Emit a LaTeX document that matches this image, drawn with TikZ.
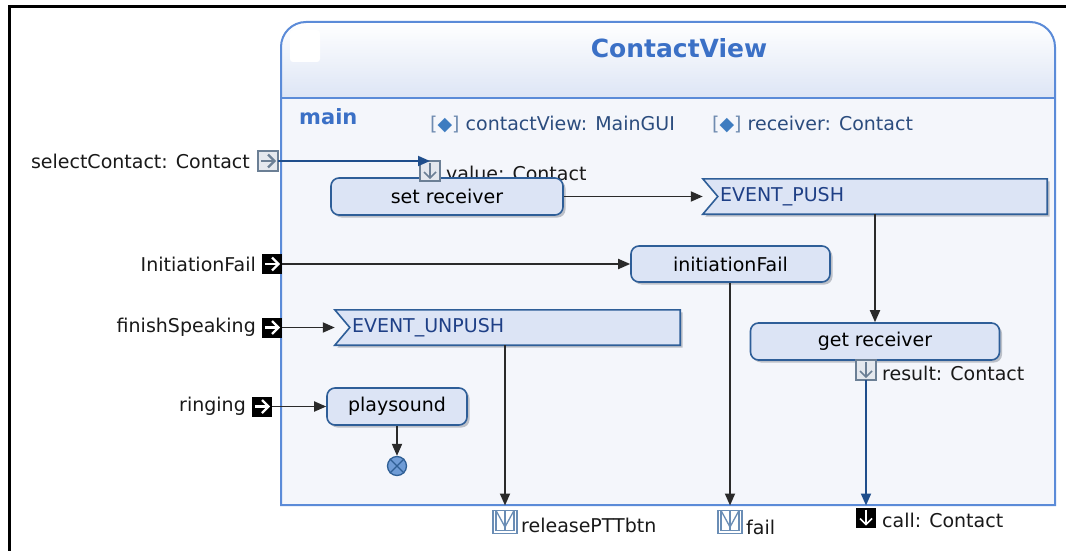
\documentclass[tikz,border=0pt]{standalone}
\usepackage{fontspec}
\setmainfont{DejaVu Sans}
\usetikzlibrary{arrows.meta,calc}
\definecolor{cborder}{HTML}{5B8BD8}
\definecolor{bodyc}{HTML}{F4F6FB}
\definecolor{headc}{HTML}{DDE5F5}
\definecolor{boxfill}{HTML}{DCE4F5}
\definecolor{boxdraw}{HTML}{2E5E98}
\definecolor{titlec}{HTML}{3B70C6}
\definecolor{attrc}{HTML}{2B4C7E}
\definecolor{bracketc}{HTML}{6F8BB0}
\definecolor{diamc}{HTML}{3E7CC0}
\definecolor{evtc}{HTML}{1E3F86}
\definecolor{linec}{HTML}{2A2A2A}
\definecolor{bluel}{HTML}{1F4E8C}
\definecolor{pinc}{HTML}{6B7F95}
\definecolor{pinfill}{HTML}{E4E8EE}
\definecolor{outpinc}{HTML}{6A8DB5}
\definecolor{shadowc}{HTML}{BCC0C8}
\definecolor{endc}{HTML}{2F5F95}
\definecolor{endfill}{HTML}{6F9CD6}
\newcommand\pinarrowright[2]{%
  \draw[#2, line width=2.2pt] ($(#1.center)+(-7,0)$) -- ($(#1.center)+(6,0)$);
  \draw[#2, line width=2.2pt] ($(#1.center)+(0,-6.5)$) -- ($(#1.center)+(6.5,0)$) -- ($(#1.center)+(0,6.5)$);}
\newcommand\pinarrowdown[2]{%
  \draw[#2, line width=1.6pt] ($(#1.center)+(0,-8)$) -- ($(#1.center)+(0,7)$);
  \draw[#2, line width=1.6pt] ($(#1.center)+(-6,1)$) -- ($(#1.center)+(0,7)$) -- ($(#1.center)+(6,1)$);}
\newcommand\pinouticon[1]{%
  \draw[outpinc, line width=1.3pt] ($(#1.north west)+(3,0)$) -- ($(#1.south west)+(3,-3)$) -- ($(#1.south east)+(-3,-3)$) -- ($(#1.north east)+(-3,0)$);
  \draw[outpinc, line width=1.3pt] ($(#1.north west)+(3,0)$) -- ($(#1.center)+(0,5)$) -- ($(#1.north east)+(-3,0)$);
  \draw[outpinc, line width=1.3pt] (#1.north) -- ($(#1.south)+(0,-3)$);}
\begin{document}
\begin{tikzpicture}[x=1pt,y=-1pt, font=\fontsize{19}{22}\selectfont,
  shd/.style={preaction={fill=shadowc, transform canvas={xshift=2.5pt,yshift=-2.5pt}}},
  act/.style={shd, draw=boxdraw, line width=1.6pt, fill=boxfill, rounded corners=8pt, inner sep=0pt, text=black},
  evtframe/.style={inner sep=0pt, minimum height=35pt},
  evtline/.style={shd, draw=boxdraw, line width=1.6pt, fill=boxfill},
  evttext/.style={anchor=west, inner sep=0pt, text=evtc},
  pinbox/.style={minimum width=20pt, minimum height=20pt, inner sep=0pt, outer sep=0pt},
  blk/.style={pinbox, fill=black},
  inpin/.style={pinbox, draw=pinc, fill=pinfill, line width=1.2pt},
  outpin/.style={pinbox, minimum width=24pt, minimum height=23pt, draw=outpinc, fill=white, line width=1.3pt},
  lbl/.style={inner sep=0pt, text=black!90},
  flow/.style={draw=linec, line width=1.8pt, -{Triangle[length=12pt,width=10pt]}},
  bflow/.style={draw=bluel, line width=1.9pt, -{Triangle[length=12pt,width=10pt]}},
]
\useasboundingbox (0,0) rectangle (1066,551);
\fill[white] (0,0) rectangle (1066,551);
% outer frame
\draw[line width=3pt] (9,551) -- (9,7) -- (1066,7);
% container
\fill[bodyc] (281,505) -- (281,47) arc[start angle=180,end angle=270,radius=25] -- (1030,22) arc[start angle=270,end angle=360,radius=25] -- (1055,505) -- cycle;
\shade[top color=white, bottom color=headc] (281,98) -- (281,47) arc[start angle=180,end angle=270,radius=25] -- (1030,22) arc[start angle=270,end angle=360,radius=25] -- (1055,98) -- cycle;
\draw[cborder, line width=2pt] (281,505) -- (281,47) arc[start angle=180,end angle=270,radius=25] -- (1030,22) arc[start angle=270,end angle=360,radius=25] -- (1055,505) -- cycle;
\draw[cborder, line width=1.5pt] (281,98) -- (1055,98);
\fill[white, rounded corners=3pt] (290,30) rectangle (320,62);
\node[text=titlec, font=\fontsize{25}{30}\selectfont\bfseries] (title) at (679,48) {ContactView};
\node[anchor=west, inner sep=0pt, text=titlec, font=\fontsize{21}{25}\selectfont\bfseries] (mainlbl) at (299,117) {main};
\node[anchor=west, inner sep=0pt, text=attrc] (attr1) at (430,125) {\textcolor{bracketc}{[}\textcolor{diamc}{◆}\textcolor{bracketc}{]} contactView: MainGUI};
\node[anchor=west, inner sep=0pt, text=attrc] (attr2) at (712,125) {\textcolor{bracketc}{[}\textcolor{diamc}{◆}\textcolor{bracketc}{]} receiver: Contact};

% value pin label (behind box)
\node[lbl, anchor=west] (valuelbl) at (446,173) {value: Contact};

% actions
\node[act, minimum width=232pt, minimum height=37pt] (setr) at (447,196.5) {set receiver};
\node[act, minimum width=199pt, minimum height=36pt] (initf) at (730.5,264) {initiationFail};
\node[act, minimum width=249pt, minimum height=37pt] (getr) at (875,341.5) {get receiver};
\node[act, minimum width=140pt, minimum height=37pt] (plays) at (397,406.5) {playsound};

% accept event actions
\node[evtframe, minimum width=344pt] (push) at (875,196.5) {};
\path[evtline] (push.north west) -- (push.north east) -- (push.south east) -- (push.south west) -- ($(push.west)+(15,0)$) -- cycle;
\node[evttext] (pushtxt) at ($(push.west)+(17,0)$) {EVENT\_PUSH};
\node[evtframe, minimum width=345pt] (unpush) at (507.5,327.5) {};
\path[evtline] (unpush.north west) -- (unpush.north east) -- (unpush.south east) -- (unpush.south west) -- ($(unpush.west)+(15,0)$) -- cycle;
\node[evttext] (unpushtxt) at ($(unpush.west)+(17,0)$) {EVENT\_UNPUSH};

% final node
\node[circle, minimum size=19pt, inner sep=0pt, draw=endc, fill=endfill, line width=1.3pt] (endn) at (397,466) {};
\draw[endc, line width=1.3pt] (endn.north west) -- (endn.south east);
\draw[endc, line width=1.3pt] (endn.north east) -- (endn.south west);

% input pins on the left
\node[lbl, anchor=east] (selLbl) at (250,161) {selectContact: Contact};
\node[inpin] (pSel) at (268,161) {};
\pinarrowright{pSel}{pinc}
\node[lbl, anchor=east] (initLbl) at (256,264) {InitiationFail};
\node[blk] (pInit) at (272,264) {};
\pinarrowright{pInit}{white}
\node[lbl, anchor=east] (finLbl) at (256,327.5) {finishSpeaking};
\node[blk] (pFin) at (272,327.5) {};
\pinarrowright{pFin}{white}
\node[lbl, anchor=east] (ringLbl) at (246,406) {ringing};
\node[blk] (pRing) at (262,406.5) {};
\pinarrowright{pRing}{white}

% value / result pins
\node[inpin] (pVal) at (430,171) {};
\pinarrowdown{pVal}{pinc}
\node[inpin] (pRes) at (866,370) {};
\pinarrowdown{pRes}{pinc}
\node[lbl, anchor=west] (resLbl) at (882,373) {result: Contact};

% output pins at the bottom
\node[outpin] (pRel) at (505,522) {};
\pinouticon{pRel}
\node[lbl, anchor=west] (relLbl) at (521,525) {releasePTTbtn};
\node[outpin] (pFail) at (730,522) {};
\pinouticon{pFail}
\node[lbl, anchor=west] (failLbl) at (746,527) {fail};
\node[blk] (pCall) at (866,517.5) {};
\pinarrowdown{pCall}{white}
\node[lbl, anchor=west] (callLbl) at (882,520) {call: Contact};

% connectors
\draw[bflow] (pSel.east) -- (pVal.north);
\draw[flow] (setr.east) -- (setr.east -| push.west);
\draw[flow] (pInit.east) -- (initf.west);
\draw[flow] (pFin.east) -- (unpush.west);
\draw[flow] (pRing.east) -- (plays.west);
\draw[flow] (push.south) -- (getr.north);
\draw[flow] (plays.south) -- (endn.north);
\draw[flow, shorten >=5pt] (unpush.south -| pRel.north) -- (pRel.north);
\draw[flow, shorten >=5pt] (initf.south -| pFail.north) -- (pFail.north);
\draw[bflow, shorten >=2pt] (pRes.south) -- (pCall.north);
\end{tikzpicture}
\end{document}
